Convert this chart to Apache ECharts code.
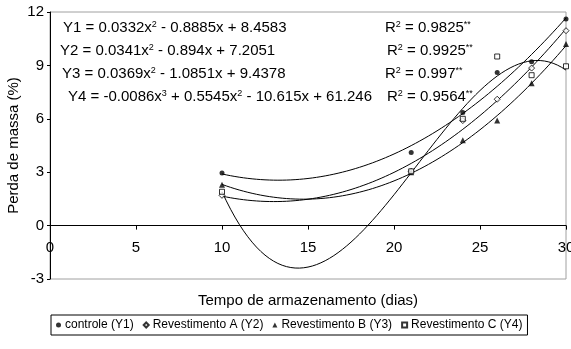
<!DOCTYPE html>
<html>
<head>
<meta charset="utf-8">
<script src="https://cdn.jsdelivr.net/npm/echarts@6/dist/echarts.min.js"></script>
</head>
<body style="margin:0">
<div id="main" style="width:571px;height:349px;"></div>
<script type="text/javascript">
// storage days and mass loss (%)
var days = [10, 21, 24, 26, 28, 30];
var controle = [2.95, 4.1, 6.35, 8.6, 9.2, 11.6];
var revA = [1.7, 3.05, 5.9, 7.1, 8.85, 10.95];
var revB = [2.3, 3.0, 4.8, 5.9, 8.0, 10.2];
var revC = [1.9, 3.05, 6.0, 9.5, 8.45, 8.95];
var yTicks = [-3, 0, 3, 6, 9, 12];

// least squares polynomial, like the spreadsheet trendline
function polyfit(xs, ys, deg) {
  var n = deg + 1, A = [], i, j, k;
  for (i = 0; i < n; i++) {
    A.push([]);
    for (j = 0; j <= n; j++) A[i].push(0);
  }
  for (k = 0; k < xs.length; k++) {
    for (i = 0; i < n; i++) {
      for (j = 0; j < n; j++) A[i][j] += Math.pow(xs[k], i + j);
      A[i][n] += ys[k] * Math.pow(xs[k], i);
    }
  }
  for (i = 0; i < n; i++) {
    var p = i;
    for (j = i + 1; j < n; j++) if (Math.abs(A[j][i]) > Math.abs(A[p][i])) p = j;
    var t = A[i]; A[i] = A[p]; A[p] = t;
    for (j = i + 1; j < n; j++) {
      var f = A[j][i] / A[i][i];
      for (k = i; k <= n; k++) A[j][k] -= f * A[i][k];
    }
  }
  var c = [];
  for (i = n - 1; i >= 0; i--) {
    var s = A[i][n];
    for (j = i + 1; j < n; j++) s -= A[i][j] * c[j];
    c[i] = s / A[i][i];
  }
  return c;
}
function trend(ys, deg) {
  var c = polyfit(days, ys, deg), out = [];
  for (var x = days[0]; x <= days[days.length - 1] + 1e-9; x += 0.25) {
    var y = 0;
    for (var i = 0; i < c.length; i++) y += c[i] * Math.pow(x, i);
    out.push([x, y]);
  }
  return out;
}
function pts(ys) {
  return days.map(function (d, i) { return [d, ys[i]]; });
}

var myChart = echarts.init(document.getElementById('main'));
var font = 'Liberation Sans, Arial, sans-serif';
var rich = {
  s: {fontSize: 9, verticalAlign: 'top', lineHeight: 10, fontFamily: font, color: '#000'}
};
function eqText(str, x, y) {
  return {
    type: 'text', left: x, top: y,
    style: {text: str, font: '15px ' + font, fill: '#000', rich: rich}
  };
}

var lineStyle = {color: '#000', width: 1};
var option = {
  animation: false,
  textStyle: {fontFamily: font},
  grid: {left: 50, right: 5, top: 12, bottom: 70, outerBoundsMode: 'none', containLabel: false,
    show: true, borderColor: '#a0a0a0', borderWidth: 1},
  legend: {
    left: 51, top: 315, orient: 'horizontal',
    data: ['controle (Y1)', 'Revestimento A (Y2)', 'Revestimento B (Y3)', 'Revestimento C (Y4)'],
    borderColor: '#000', borderWidth: 1, padding: [4, 5], itemGap: 9,
    itemWidth: 5, itemHeight: 5,
    textStyle: {fontSize: 12, color: '#000', padding: [0, 0, 0, -1]}
  },
  xAxis: {
    type: 'value', min: 0, max: 30, interval: 5,
    name: 'Tempo de armazenamento (dias)', nameLocation: 'middle', nameGap: 14,
    nameMoveOverlap: false,
    nameTextStyle: {fontSize: 15, color: '#000'},
    axisLine: {onZero: true, lineStyle: {color: '#000'}},
    axisTick: {show: true, length: 4, lineStyle: {color: '#000'}},
    axisLabel: {color: '#000', fontSize: 15, margin: -39},
    splitLine: {show: false}
  },
  yAxis: {
    type: 'value', min: yTicks[0], max: yTicks[yTicks.length - 1], interval: 3,
    name: 'Perda de massa (%)', nameLocation: 'middle', nameGap: 29,
    nameMoveOverlap: false,
    nameTextStyle: {fontSize: 15, color: '#000'},
    axisLine: {show: true, onZero: false, lineStyle: {color: '#000'}},
    axisTick: {show: true, length: 3, lineStyle: {color: '#000'}},
    axisLabel: {color: '#000', fontSize: 15, margin: 6},
    splitLine: {show: false}
  },
  graphic: [
    eqText('Y1 = 0.0332x{s|2} - 0.8885x + 8.4583', 63, 20),
    eqText('Y2 = 0.0341x{s|2} - 0.894x + 7.2051', 60, 43),
    eqText('Y3 = 0.0369x{s|2} - 1.0851x + 9.4378', 62, 66),
    eqText('Y4 = -0.0086x{s|3} + 0.5545x{s|2} - 10.615x + 61.246', 68, 89),
    eqText('R{s|2} = 0.9825{s|**}', 385, 20),
    eqText('R{s|2} = 0.9925{s|**}', 387, 43),
    eqText('R{s|2} = 0.997{s|**}', 385, 66),
    eqText('R{s|2} = 0.9564{s|**}', 387, 89)
  ],
  series: [
    {name: 'controle (Y1)', type: 'scatter', data: pts(controle), symbol: 'circle', symbolSize: 5,
      itemStyle: {color: '#000'}, z: 5},
    {name: 'Revestimento A (Y2)', type: 'scatter', data: pts(revA), symbol: 'diamond', symbolSize: 6,
      itemStyle: {color: '#fff', borderColor: '#000', borderWidth: 1}, z: 5},
    {name: 'Revestimento B (Y3)', type: 'scatter', data: pts(revB), symbol: 'triangle', symbolSize: 6,
      itemStyle: {color: '#000'}, z: 5},
    {name: 'Revestimento C (Y4)', type: 'scatter', data: pts(revC), symbol: 'rect', symbolSize: 5,
      itemStyle: {color: '#fff', borderColor: '#000', borderWidth: 1}, z: 5},
    {type: 'line', data: trend(controle, 2), showSymbol: false, lineStyle: lineStyle, silent: true},
    {type: 'line', data: trend(revA, 2), showSymbol: false, lineStyle: lineStyle, silent: true},
    {type: 'line', data: trend(revB, 2), showSymbol: false, lineStyle: lineStyle, silent: true},
    {type: 'line', data: trend(revC, 3), showSymbol: false, lineStyle: lineStyle, silent: true}
  ]
};
myChart.setOption(option);
</script>
</body>
</html>
